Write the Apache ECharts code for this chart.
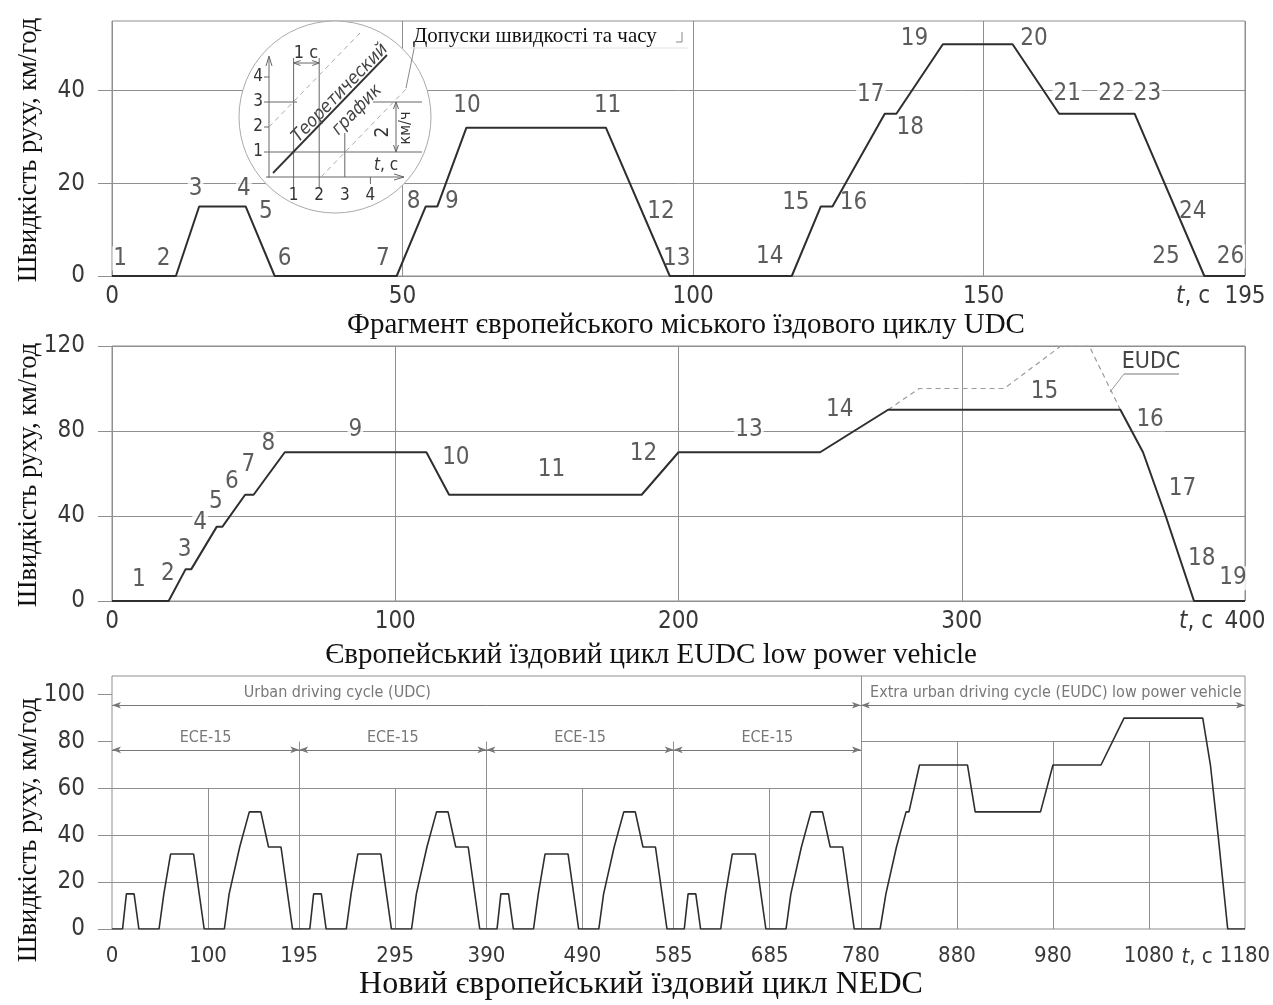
<!DOCTYPE html>
<html><head><meta charset="utf-8">
<script src="https://cdn.jsdelivr.net/npm/echarts@6/dist/echarts.min.js"></script>
<style>html,body{margin:0;padding:0;background:#fff}#c{width:1273px;height:1005px}</style>
</head><body><div id="c"></div>
<script>
// ---------- DATA ----------
// Panel 1: UDC (ECE-15) fragment
const udcT = [0, 11, 15, 23, 28, 49, 54, 56, 61, 85, 96, 117, 122, 124, 133, 135, 143, 155, 163, 176, 188, 195];
const udcV = [0, 0, 15, 15, 0, 0, 15, 15, 32, 32, 0, 0, 15, 15, 35, 35, 50, 50, 35, 35, 0, 0];
const udcMarks = [
  [1.4, 3.8, '1'], [8.9, 3.8, '2'], [14.4, 18.9, '3'], [22.7, 18.9, '4'], [26.5, 13.9, '5'],
  [29.7, 3.8, '6'], [46.6, 3.8, '7'], [51.9, 16.0, '8'], [58.5, 16.0, '9'], [61.1, 36.7, '10'],
  [85.3, 36.7, '11'], [94.5, 13.9, '12'], [97.2, 3.8, '13'], [113.2, 4.2, '14'], [117.7, 15.7, '15'],
  [127.6, 15.7, '16'], [130.6, 39.0, '17'], [137.4, 31.9, '18'], [138.1, 51.1, '19'], [158.7, 51.1, '20'],
  [164.4, 39.2, '21'], [172.1, 39.2, '22'], [178.2, 39.2, '23'], [186.0, 13.9, '24'], [181.4, 4.2, '25'],
  [192.5, 4.2, '26']
];
const udcTicksX = [0, 50, 100, 150, 195];
const udcTicksY = [0, 20, 40];

// Panel 2: EUDC low power vehicle
const eudcT = [0, 20, 26, 28, 37, 39, 47, 50, 61, 111, 119, 187, 200, 250, 274, 356, 364, 372, 382, 400];
const eudcV = [0, 0, 15, 15, 35, 35, 50, 50, 70, 70, 50, 50, 70, 70, 90, 90, 70, 40, 0, 0];
const eudcFullT = [274, 285, 315, 335, 345, 356];
const eudcFullV = [90, 100, 100, 120, 120, 90];
const eudcMarks = [
  [9.5, 9.9, '1'], [19.7, 13.0, '2'], [25.6, 24.0, '3'], [31.1, 36.6, '4'], [36.7, 46.7, '5'],
  [42.3, 56.1, '6'], [48.1, 64.0, '7'], [55.2, 74.2, '8'], [85.9, 80.5, '9'], [121.4, 67.2, '10'],
  [155.2, 61.6, '11'], [187.6, 69.5, '12'], [224.9, 80.5, '13'], [256.9, 89.9, '14'], [329.2, 98.5, '15'],
  [366.5, 85.5, '16'], [377.9, 53.0, '17'], [384.7, 20.1, '18'], [395.8, 10.7, '19']
];
const eudcTicksX = [0, 100, 200, 300, 400];
const eudcTicksY = [0, 40, 80, 120];

// Panel 3: NEDC = 4 x ECE-15 + EUDC
const eceStarts = [0, 195, 390, 585];
const eudcStart = 780;
const nedcTicksX = [0, 100, 195, 295, 390, 490, 585, 685, 780, 880, 980, 1080, 1180];
const nedcTicksY = [0, 20, 40, 60, 80, 100];
const nedcGridH = [[20, 0, 1180], [40, 0, 1180], [60, 0, 1180], [80, 780, 1180]];
const nedcGridV = [[100, 0, 60], [195, 0, 80], [295, 0, 60], [390, 0, 80], [490, 0, 60], [585, 0, 80],
  [685, 0, 60], [780, 0, 108], [880, 0, 80], [980, 0, 80], [1080, 0, 80]];
const nedcArrows = [[0, 780, 95.5], [780, 1180, 95.5], [0, 195, 76.5], [195, 390, 76.5], [390, 585, 76.5], [585, 780, 76.5]];
const nedcTexts = [
  [234.7, 100.6, 'Urban driving cycle (UDC)'],
  [983, 100.6, 'Extra urban driving cycle (EUDC) low power vehicle'],
  [97.5, 81.6, 'ECE-15'], [292.5, 81.6, 'ECE-15'], [487.5, 81.6, 'ECE-15'], [682.5, 81.6, 'ECE-15']
];

// ---------- BUILD ----------
const NARROW = '"Liberation Sans Narrow","DejaVu Sans Condensed",sans-serif';
const SERIF = '"Liberation Serif","Times New Roman",serif';
const GRID = '#8f8f8f';
const INK = '#2e2e2e';
const TICKFS = 24;
const zip = (t, v) => t.map((x, i) => [x, v[i]]);

const nedc = [];
eceStarts.forEach(o => udcT.forEach((t, i) => nedc.push([t + o, udcV[i]])));
eudcT.forEach((t, i) => nedc.push([t + eudcStart, eudcV[i]]));

const G = [
  {left: 112, top: 21, width: 1133, height: 255},
  {left: 112, top: 346, width: 1133, height: 255},
  {left: 112, top: 676, width: 1133, height: 253}
].map(g => Object.assign(g, {show: true, borderColor: GRID, borderWidth: 1, backgroundColor: 'transparent',
  containLabel: false, outerBoundsMode: 'none'}));

function xAx(gi, max, interval, vals, split, margin, fs) {
  return {type: 'value', gridIndex: gi, min: 0, max, interval,
    axisLine: {show: false}, axisTick: {show: false},
    axisLabel: {customValues: vals, formatter: v => String(v), fontFamily: NARROW, fontSize: fs, color: '#383838', margin,
      hideOverlap: false},
    splitLine: {show: split, lineStyle: {color: GRID, width: 1}}};
}
function yAx(gi, max, interval, vals, split) {
  return {type: 'value', gridIndex: gi, min: 0, max, interval,
    axisLine: {show: false},
    axisTick: {show: true, length: 14, customValues: vals, lineStyle: {color: GRID}},
    axisLabel: {customValues: vals, formatter: v => String(v), fontFamily: NARROW, fontSize: TICKFS, color: '#383838', margin: 27},
    splitLine: {show: split, lineStyle: {color: GRID, width: 1}}};
}
function marks(data, gi, size) {
  return {type: 'scatter', xAxisIndex: gi, yAxisIndex: gi, data, symbolSize: 1, z: 2, silent: true,
    itemStyle: {color: 'rgba(0,0,0,0)'},
    label: {show: true, position: 'inside', formatter: p => p.data[2], fontFamily: NARROW,
      fontSize: size, color: '#333', backgroundColor: '#fff', padding: [0, 1]}};
}
function curve(data, gi, w) {
  return {type: 'line', xAxisIndex: gi, yAxisIndex: gi, data, symbol: 'none', z: 5, silent: true,
    lineStyle: {color: INK, width: w}};
}

const gridSegs = nedcGridH.map(h => [{coord: [h[1], h[0]]}, {coord: [h[2], h[0]]}])
  .concat(nedcGridV.map(v => [{coord: [v[0], v[1]]}, {coord: [v[0], v[2]]}]));
const arrowSegs = nedcArrows.map(a => [{coord: [a[0], a[2]]}, {coord: [a[1], a[2]]}]);

const series = [
  curve(zip(udcT, udcV), 0, 2),
  marks(udcMarks, 0, 24),
  {type: 'line', xAxisIndex: 1, yAxisIndex: 1, data: zip(eudcFullT, eudcFullV), symbol: 'none', z: 4,
    lineStyle: {color: '#9a9a9a', width: 1.2, type: [5, 4]}},
  curve(zip(eudcT, eudcV), 1, 2),
  marks(eudcMarks, 1, 24),
  {type: 'line', xAxisIndex: 2, yAxisIndex: 2, data: [], z: 1, silent: true,
    markLine: {silent: true, animation: false, symbol: ['none', 'none'], label: {show: false},
      lineStyle: {color: GRID, width: 1, type: 'solid'}, data: gridSegs}},
  {type: 'line', xAxisIndex: 2, yAxisIndex: 2, data: [], z: 1, silent: true,
    markLine: {silent: true, animation: false, symbol: ['arrow', 'arrow'], symbolSize: [5, 9], label: {show: false},
      lineStyle: {color: '#777', width: 1, type: 'solid'}, data: arrowSegs}},
  curve(nedc, 2, 1.6),
  {type: 'scatter', xAxisIndex: 2, yAxisIndex: 2, data: nedcTexts, symbolSize: 1, z: 2, silent: true,
    itemStyle: {color: 'rgba(0,0,0,0)'},
    label: {show: true, position: 'inside', formatter: p => p.data[2], fontFamily: NARROW, fontSize: 16, color: '#555'}}
];

// ---------- GRAPHIC ANNOTATIONS (pixel space) ----------
const gfx = [];
const L = (x1, y1, x2, y2, stroke, lw, dash) => gfx.push({type: 'line', z: 11,
  shape: {x1, y1, x2, y2}, style: {stroke: stroke || '#666', lineWidth: lw || 1, lineDash: dash || null}});
const PL = (pts, stroke) => gfx.push({type: 'polyline', z: 11, shape: {points: pts}, style: {stroke: stroke || '#666', fill: null, lineWidth: 1}});
const T = (x, y, text, o) => gfx.push(Object.assign({type: 'text', z: 12, x, y,
  style: Object.assign({text, fill: '#333', fontFamily: NARROW, fontSize: 16, align: 'center', verticalAlign: 'middle'}, (o && o.style) || {})},
  o && o.rotation !== undefined ? {rotation: o.rotation} : {}));

// inset circle
gfx.push({type: 'circle', z: 10, shape: {cx: 335, cy: 117, r: 96}, style: {fill: '#fff', stroke: '#aaa', lineWidth: 1}});
// inset axes
L(269, 178, 269, 57); PL([[266, 66], [269, 56], [272, 66]]);
L(266, 177, 404, 177); PL([[394, 174], [404, 177], [394, 180]]);
const ix = t => 268 + 25.6 * t, iy = v => 177 - 25 * v;
[1, 2, 3, 4].forEach(k => {
  L(264, iy(k), 269, iy(k));
  T(258, iy(k), String(k), {style: {fontSize: 17}});
  T(ix(k), 196, String(k), {style: {fontSize: 17}});
});
L(ix(4), 177, ix(4), 184);
// inset grid
L(269, iy(1), 422, iy(1));
L(269, iy(3), 297, iy(3)); L(373, iy(3), 422, iy(3));
L(ix(1), 188, ix(1), 58); L(ix(2), 188, ix(2), 58); L(ix(3), 177, ix(3), 133);
// dimension 1 c
L(ix(1), 63, ix(2), 63); PL([[ix(1) + 7, 60.5], [ix(1), 63], [ix(1) + 7, 65.5]]); PL([[ix(2) - 7, 60.5], [ix(2), 63], [ix(2) - 7, 65.5]]);
T(306, 53, '1 c', {style: {fontSize: 18}});
// dimension 2 km/h
L(396, iy(3), 396, iy(1)); PL([[393.5, iy(3) + 7], [396, iy(3)], [398.5, iy(3) + 7]]); PL([[393.5, iy(1) - 7], [396, iy(1)], [398.5, iy(1) - 7]]);
T(383, 132, '2', {rotation: Math.PI / 2, style: {fontSize: 19}});
T(406, 128, 'км/ч', {rotation: Math.PI / 2, style: {fontSize: 16}});
// tolerance + theoretical lines
L(269, 127, 360, 33, '#aaa', 1, [5, 4]);
L(321, 177, 408, 87, '#aaa', 1, [5, 4]);
L(273, 173, 387, 55, '#333', 1.8);
T(340, 93, 'Теоретический', {rotation: 46 * Math.PI / 180, style: {fontSize: 18, fontStyle: 'italic', fill: '#444'}});
T(357, 110, 'график', {rotation: 46 * Math.PI / 180, style: {fontSize: 18, fontStyle: 'italic', fill: '#444'}});
T(386, 166, '{i|t}, c', {style: {fontSize: 17, rich: {i: {fontStyle: 'italic', fontSize: 17, fontFamily: NARROW}}}});
// leader + tolerance caption
L(406, 88, 415, 44, '#888');
L(410, 48, 688, 48, '#e2e2e2');
T(413, 36, 'Допуски швидкості та часу', {style: {fontFamily: SERIF, fontSize: 21, fill: '#111', align: 'left'}});
L(682, 32, 682, 42, '#888'); L(676, 42, 682, 42, '#888');

// EUDC caption on panel 2
T(1151, 362, 'EUDC', {style: {fontSize: 23, fill: '#444'}});
L(1124, 374, 1179, 374, '#777'); L(1110, 392, 1124, 374, '#999');

// "t, c" axis captions
[[1193, 297, TICKFS], [1196, 622, TICKFS], [1197, 957, 22]].forEach(p =>
  T(p[0], p[1], '{i|t}, c', {style: {fontSize: p[2], fill: '#383838', rich: {i: {fontStyle: 'italic', fontSize: p[2], fontFamily: NARROW}}}}));

// y titles
[150, 475, 830].forEach(cy => T(29, cy, 'Швидкість руху, км/год',
  {rotation: Math.PI / 2, style: {fontFamily: SERIF, fontSize: 26.5, fill: '#111'}}));

// panel titles
T(686, 325, 'Фрагмент європейського міського їздового циклу UDC', {style: {fontFamily: SERIF, fontSize: 29, fill: '#111'}});
T(651, 655, 'Європейський їздовий цикл EUDC low power vehicle', {style: {fontFamily: SERIF, fontSize: 29, fill: '#111'}});
T(641, 985, 'Новий європейський їздовий цикл NEDC', {style: {fontFamily: SERIF, fontSize: 32, fill: '#111'}});

const chart = echarts.init(document.getElementById('c'), null, {renderer: 'canvas'});
chart.setOption({
  animation: false,
  backgroundColor: '#fff',
  grid: G,
  xAxis: [
    xAx(0, 195, 50, udcTicksX, true, 9, TICKFS),
    xAx(1, 400, 100, eudcTicksX, true, 9, TICKFS),
    xAx(2, 1180, 100, nedcTicksX, false, 16, 22)
  ],
  yAxis: [
    yAx(0, 55, 20, udcTicksY, true),
    yAx(1, 120, 40, eudcTicksY, true),
    yAx(2, 108, 20, nedcTicksY, false)
  ],
  series,
  graphic: {elements: gfx}
});
</script>
</body></html>
